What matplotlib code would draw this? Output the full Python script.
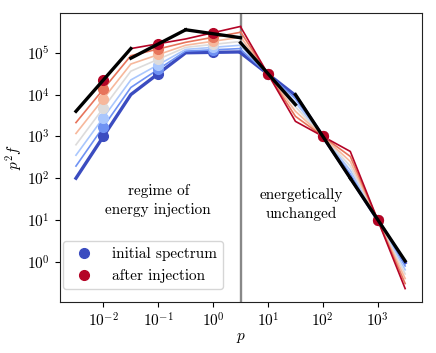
import numpy as np
import matplotlib
matplotlib.use("Agg")
import matplotlib.pyplot as plt
from matplotlib.lines import Line2D
from matplotlib.ticker import NullLocator

plt.rcParams['font.family'] = 'serif'
plt.rcParams['font.serif'] = ['cmr10', 'DejaVu Serif']
plt.rcParams['mathtext.fontset'] = 'cm'
plt.rcParams['axes.unicode_minus'] = False
plt.rcParams['axes.formatter.use_mathtext'] = True
plt.rcParams['font.size'] = 11

# ---- data (log10 values) ----
log_p_left_edges = [-2.5, -1.5, -0.5, 0.5]
log_p_left_centers = [-2.0, -1.0, 0.0]
log_p_right_edges = [0.5, 1.5, 2.5, 3.5]
log_p_right_centers = [1.0, 2.0, 3.0]

# each row: one spectrum, from initial (blue) to after injection (red)
left_edge_vals = [
    [2.00, 4.00, 5.00, 5.02],
    [2.29, 4.17, 5.04, 5.10],
    [2.55, 4.35, 5.08, 5.18],
    [2.80, 4.56, 5.13, 5.27],
    [3.07, 4.73, 5.18, 5.37],
    [3.33, 4.93, 5.25, 5.49],
    [3.60, 5.10, 5.33, 5.63],
]
left_center_vals = [
    [3.00, 4.50, 5.01],
    [3.23, 4.60, 5.07],
    [3.45, 4.71, 5.13],
    [3.68, 4.85, 5.20],
    [3.90, 4.96, 5.28],
    [4.13, 5.09, 5.37],
    [4.36, 5.21, 5.48],
]
right_edge_vals = [
    [5.00, 3.98, 2.02, -0.02],
    [5.08, 3.90, 2.10, -0.10],
    [5.17, 3.81, 2.19, -0.19],
    [5.27, 3.71, 2.29, -0.29],
    [5.38, 3.60, 2.40, -0.40],
    [5.50, 3.48, 2.52, -0.52],
    [5.62, 3.36, 2.64, -0.64],
]
right_center_vals = [
    [4.49, 3.00, 1.00],
    [4.49, 3.00, 1.00],
    [4.49, 3.00, 1.00],
    [4.49, 3.00, 1.00],
    [4.49, 3.00, 1.00],
    [4.49, 3.00, 1.00],
    [4.49, 3.00, 1.00],
]

# black piecewise power-law fit per bin
black_bin_lo = [-2.5, -1.5, -0.5, 0.5, 1.5, 2.5]
black_bin_hi = [-1.5, -0.5, 0.5, 1.5, 2.5, 3.5]
black_val_lo = [3.60, 4.87, 5.55, 5.24, 4.00, 2.00]
black_val_hi = [5.10, 5.55, 5.36, 3.76, 2.00, 0.02]

log_p_boundary = 0.5

legend_labels = ["initial spectrum", "after injection"]
text_left = "regime of\nenergy injection"
text_right = "energetically\nunchanged"

# ---- plot ----
fig = plt.figure(figsize=(4.36, 3.53), dpi=100)
ax = fig.add_axes([0.1365, 0.1453, 0.8305, 0.817])

n = len(left_edge_vals)
colors = plt.cm.coolwarm(np.linspace(0, 1, n))

for i in range(n):
    lw = 2.4 if i == 0 else 1.2
    c = colors[i]
    ax.plot(10 ** np.array(log_p_left_edges), 10 ** np.array(left_edge_vals[i]),
            color=c, lw=lw, zorder=2 + i * 0.1)
    ax.plot(10 ** np.array(log_p_right_edges), 10 ** np.array(right_edge_vals[i]),
            color=c, lw=lw, zorder=2 + i * 0.1)
    ax.plot(10 ** np.array(log_p_left_centers), 10 ** np.array(left_center_vals[i]),
            'o', color=c, ms=7, zorder=3 + i * 0.1)
    ax.plot(10 ** np.array(log_p_right_centers), 10 ** np.array(right_center_vals[i]),
            'o', color=c, ms=7, zorder=3 + i * 0.1)

for lo, hi, vlo, vhi in zip(black_bin_lo, black_bin_hi, black_val_lo, black_val_hi):
    ax.plot([10 ** lo, 10 ** hi], [10 ** vlo, 10 ** vhi], color='black', lw=2.4,
            zorder=5)

ax.set_xscale('log')
ax.set_yscale('log')
ax.axvline(10 ** log_p_boundary, color='#888888', lw=1.7, zorder=1)
ax.xaxis.set_minor_locator(NullLocator())
ax.yaxis.set_minor_locator(NullLocator())
for s in ax.spines.values():
    s.set_color('#222222')

ax.text(10 ** -1.0, 10 ** 1.47, text_left, ha='center', va='center',
        linespacing=1.45)
ax.text(10 ** 1.6, 10 ** 1.37, text_right, ha='center', va='center',
        linespacing=1.45)

ax.set_xlabel('$p$', labelpad=1)
ax.set_ylabel('$p^2 f$', labelpad=1)

handles = [Line2D([], [], marker='o', ls='none', color=colors[0], ms=7),
           Line2D([], [], marker='o', ls='none', color=colors[-1], ms=7)]
ax.legend(handles, legend_labels, loc='lower left',
          bbox_to_anchor=(0.0097, 0.044), borderaxespad=0)

fig.savefig('out.png', dpi=100)
